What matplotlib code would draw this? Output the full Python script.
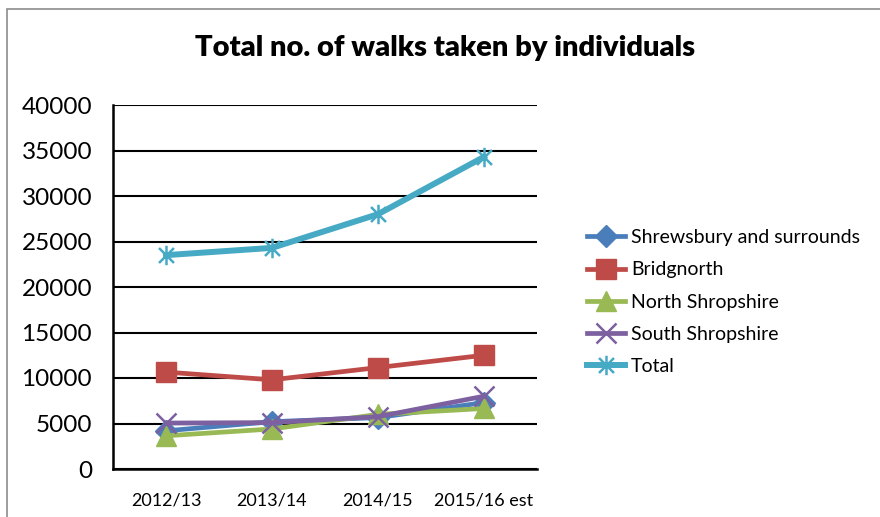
import matplotlib.pyplot as plt
from matplotlib.path import Path
from matplotlib.patches import Rectangle

# Datos
years = ['2012/13', '2013/14', '2014/15', '2015/16 est']
shrewsbury = [4200, 5200, 5650, 7300]
bridgnorth = [10650, 9800, 11150, 12500]
north_shropshire = [3650, 4400, 6000, 6650]
south_shropshire = [5050, 5100, 5750, 8000]
total = [23500, 24300, 28000, 34300]

series = [
    ('Shrewsbury and surrounds', shrewsbury, '#4a7ebb', 'D'),
    ('Bridgnorth', bridgnorth, '#be4b48', 's'),
    ('North Shropshire', north_shropshire, '#98b954', '^'),
    ('South Shropshire', south_shropshire, '#7d60a0', 'x'),
    ('Total', total, '#46aac5', 'star'),
]

plt.rcParams['font.family'] = ['Lato', 'DejaVu Sans']

# marcador tipo asterisco de Excel: X + linea vertical
asterisk = Path(
    [(-1, -1), (1, 1), (-1, 1), (1, -1), (0, -1.3), (0, 1.3)],
    [Path.MOVETO, Path.LINETO, Path.MOVETO, Path.LINETO, Path.MOVETO, Path.LINETO],
)

fig = plt.figure(figsize=(8.8, 5.17), dpi=100)
fig.patches.append(Rectangle((7 / 880, -0.1), 1.2, 1.1 - 9 / 517, transform=fig.transFigure,
                             fill=False, edgecolor='#8c8c8c', linewidth=1.2))

ax = fig.add_axes([113 / 880, 1 - 469 / 517, 424 / 880, 364 / 517])
x = [i + 0.5 for i in range(len(years))]

for name, vals, color, mk in series:
    if mk == 'star':
        ax.plot(x, vals, color=color, linewidth=4.3, marker=asterisk, markersize=14,
                markeredgewidth=1.8, markeredgecolor=color, label=name)
    elif mk == 'x':
        ax.plot(x, vals, color=color, linewidth=3.4, marker='x', markersize=14,
                markeredgewidth=1.8, label=name)
    elif mk == 'D':
        ax.plot(x, vals, color=color, linewidth=3.4, marker='D', markersize=11, label=name)
    else:
        ax.plot(x, vals, color=color, linewidth=3.4, marker=mk, markersize=15, label=name)

ax.set_xlim(0, 4)
ax.set_ylim(0, 40000)
ax.set_yticks(range(0, 40001, 5000))
ax.set_xticks(x)
ax.set_xticklabels(years, fontsize=13)
ax.tick_params(axis='y', labelsize=17.5, length=0, pad=15)
ax.tick_params(axis='x', length=0, pad=17)
ax.grid(axis='y', color='black', linewidth=1.5)
ax.set_axisbelow(True)
for s in ['top', 'right']:
    ax.spines[s].set_visible(False)
for s in ['left', 'bottom']:
    ax.spines[s].set_linewidth(1.8)

fig.text(445 / 880, 1 - 48 / 517, 'Total no. of walks taken by individuals',
         ha='center', va='center', fontsize=21, fontweight='heavy')

fig.legend(loc='center left', bbox_to_anchor=(569 / 880, 1 - 302 / 517), frameon=False,
           fontsize=14, handlelength=2.0, labelspacing=0.78, handletextpad=0.3)

plt.savefig('out.png', dpi=100)
plt.close()
